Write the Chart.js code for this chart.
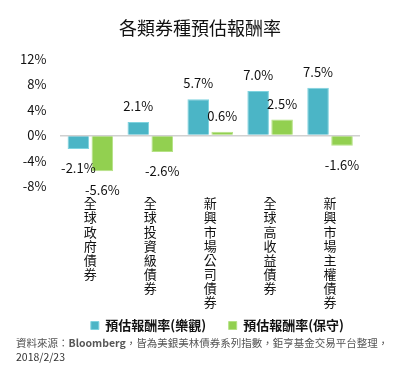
<!DOCTYPE html>
<html>
<head>
<meta charset="utf-8">
<script src="https://cdn.jsdelivr.net/npm/chart.js@4"></script>
<style>
  body { margin: 0; background: #fff; }
  #wrap { position: relative; width: 400px; height: 373px; }
  #title { position: absolute; left: 0; top: 15px; width: 400px; text-align: center; font: 18px "Noto Sans CJK TC", sans-serif; color: #111; line-height: 24px; }
  #note { position: absolute; left: 16px; top: 336px; font: 10.5px "Noto Sans CJK TC", sans-serif; color: #555; line-height: 14px; }
</style>
</head>
<body>
<div id="wrap">
  <div style="position:absolute;left:0;top:0;width:400px;height:373px"><canvas id="chart"></canvas></div>
  <div id="title">各類券種預估報酬率</div>
  <div id="note">資料來源：<b>Bloomberg</b>，皆為美銀美林債券系列指數，鉅亨基金交易平台整理，<br><span style="color:#333">2018/2/23</span></div>
</div>
<script>
// categories & values (%)
const categories = ['全球政府債券', '全球投資級債券', '新興市場公司債券', '全球高收益債券', '新興市場主權債券'];
const optimistic = [-2.1, 2.1, 5.7, 7.0, 7.5];
const conservative = [-5.6, -2.6, 0.6, 2.5, -1.6];
const seriesNames = ['預估報酬率(樂觀)', '預估報酬率(保守)'];
const yTicks = [-8, -4, 0, 4, 8, 12];

const FONT = '"Noto Sans CJK TC", sans-serif';

// value labels above / below each bar
const valueLabels = {
    id: 'valueLabels',
    afterDatasetsDraw(chart) {
        const ctx = chart.ctx;
        ctx.save();
        ctx.font = '13px ' + FONT;
        ctx.fillStyle = '#111';
        ctx.textAlign = 'center';
        ctx.textBaseline = 'middle';
        chart.data.datasets.forEach((ds, i) => {
            chart.getDatasetMeta(i).data.forEach((bar, j) => {
                const v = ds.data[j];
                const y = v >= 0 ? bar.y - 16 : bar.y + 19;
                ctx.fillText(v.toFixed(1) + '%', bar.x, y);
            });
        });
        ctx.restore();
    }
};

new Chart(document.getElementById('chart'), {
    type: 'bar',
    data: {
        labels: categories.map(c => c.split('')),
        datasets: [
            { label: seriesNames[0], data: optimistic, backgroundColor: '#4BB5C6', borderColor: '#7fd3df', borderWidth: 1, categoryPercentage: 0.8, barPercentage: 0.9 },
            { label: seriesNames[1], data: conservative, backgroundColor: '#92D050', borderColor: '#b5e285', borderWidth: 1, categoryPercentage: 0.8, barPercentage: 0.9 }
        ]
    },
    options: {
        responsive: true,
        maintainAspectRatio: false,
        animation: false,
        layout: { padding: { left: 6, right: 40, top: 59, bottom: 31 } },
        plugins: {
            legend: {
                position: 'bottom',
                align: 'end',
                labels: {
                    color: '#111',
                    font: { family: FONT, size: 13, weight: 'bold' },
                    boxWidth: 8, boxHeight: 8, padding: 9.5,
                    // extra space between the two items
                    generateLabels: chart => Chart.defaults.plugins.legend.labels.generateLabels(chart)
                        .map((item, i) => ({ ...item, text: item.text + (i === 0 ? '\u2003' : '\u2002') }))
                }
            },
            tooltip: { enabled: false }
        },
        scales: {
            x: {
                grid: { display: false, drawTicks: false },
                border: { display: false },
                afterFit: axis => { axis.height = 123; },
                ticks: {
                    color: '#111',
                    maxRotation: 0,
                    autoSkip: false,
                    padding: 10,
                    font: { family: FONT, size: 13, lineHeight: 1.08 }
                }
            },
            y: {
                min: -8,
                max: 12,
                afterBuildTicks: axis => { axis.ticks = yTicks.map(v => ({ value: v })); },
                border: { display: false },
                grid: {
                    drawTicks: false,
                    color: c => c.tick && c.tick.value === 0 ? '#d0d0d0' : 'transparent',
                    lineWidth: 1.5
                },
                ticks: {
                    color: '#111',
                    autoSkip: false,
                    padding: 14,
                    font: { family: FONT, size: 13 },
                    callback: v => v + '%'
                }
            }
        }
    },
    plugins: [valueLabels]
});
</script>
</body>
</html>
